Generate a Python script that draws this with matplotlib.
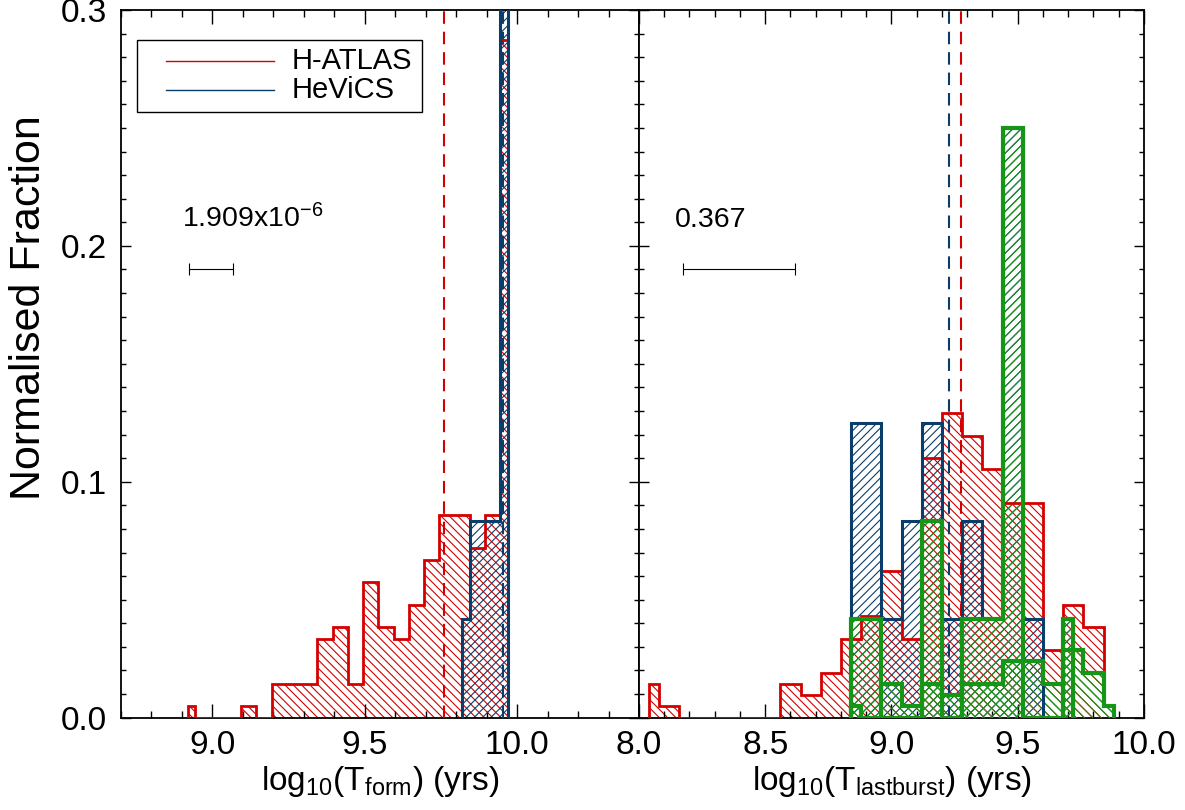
import numpy as np
import matplotlib
matplotlib.use('Agg')
import matplotlib.pyplot as plt
from matplotlib.ticker import MultipleLocator, FormatStrFormatter
from matplotlib.patches import Rectangle

plt.rcParams['font.family'] = ['Liberation Sans', 'DejaVu Sans']
plt.rcParams['mathtext.fontset'] = 'custom'
plt.rcParams['mathtext.rm'] = 'Liberation Sans'
plt.rcParams['mathtext.it'] = 'Liberation Sans:italic'
plt.rcParams['mathtext.bf'] = 'Liberation Sans:bold'
plt.rcParams['hatch.linewidth'] = 0.8

RED = '#d40000'
BLUE = '#0b3d6b'
GREEN = '#169616'

# ---------------- data: left panel (formation time) ----------------
form_atlas_x = [8.92, 8.97, 9.02, 9.07, 9.12, 9.17, 9.22, 9.27, 9.32, 9.37, 9.42,
                9.47, 9.52, 9.57, 9.62, 9.67, 9.72, 9.77, 9.82, 9.87, 9.92, 9.97]
form_atlas_y = [0.0048, 0.0, 0.0, 0.0, 0.0048, 0.0, 0.0144, 0.0144, 0.0144, 0.0335, 0.0383,
                0.0144, 0.0574, 0.0383, 0.0335, 0.0478, 0.0670, 0.0861, 0.0861, 0.0718, 0.0861, 0.2871]
form_hevics_x = [9.82, 9.87, 9.92, 9.97]
form_hevics_y = [0.0417, 0.0833, 0.0833, 0.7917]
form_mean_atlas = 9.76
form_mean_hevics = 9.955
form_stat_text = r'1.909x10$^{\mathrm{-6}}$'
form_err_x, form_err_halfwidth = 8.995, 0.072

# ---------------- data: right panel (last burst time) ----------------
burst_atlas_x = [8.04, 8.12, 8.20, 8.28, 8.36, 8.44, 8.52, 8.60, 8.68, 8.76, 8.84, 8.92,
                 9.00, 9.08, 9.16, 9.24, 9.32, 9.40, 9.48, 9.56, 9.64, 9.72, 9.80, 9.88]
burst_atlas_y = [0.0144, 0.0048, 0.0, 0.0, 0.0, 0.0, 0.0, 0.0144, 0.0096, 0.0191, 0.0335, 0.0431,
                 0.0622, 0.0335, 0.1100, 0.1292, 0.1196, 0.1053, 0.0909, 0.0909, 0.0287, 0.0478, 0.0383, 0.0048]
burst_hevics_x = [8.84, 8.92, 9.00, 9.08, 9.16, 9.24, 9.32, 9.40, 9.48, 9.56, 9.64, 9.72]
burst_hevics_y = [0.125, 0.125, 0.0417, 0.0833, 0.125, 0.0417, 0.0833, 0.0417, 0.25, 0.0417, 0.0, 0.0417]
burst_green1_x = [8.84, 8.92, 9.00, 9.08, 9.16, 9.24, 9.32, 9.40, 9.48, 9.56, 9.64, 9.72]
burst_green1_y = [0.0417, 0.0417, 0.0, 0.0, 0.0833, 0.0, 0.0417, 0.0417, 0.25, 0.0, 0.0, 0.0417]
burst_green2_x = [8.84, 8.92, 9.00, 9.08, 9.16, 9.24, 9.32, 9.40, 9.48, 9.56, 9.64, 9.72, 9.80, 9.88]
burst_green2_y = [0.0048, 0.0, 0.0144, 0.0048, 0.0144, 0.0096, 0.0144, 0.0144, 0.0239, 0.0239,
                  0.0144, 0.0287, 0.0191, 0.0048]
burst_mean_atlas = 9.275
burst_mean_hevics = 9.229
burst_stat_text = '0.367'
burst_err_x, burst_err_halfwidth = 8.396, 0.222

legend_labels = ['H-ATLAS', 'HeViCS']
xlabel_left = r'log$_{\mathrm{10}}$(T$_{\mathrm{form}}$) (yrs)'
xlabel_right = r'log$_{\mathrm{10}}$(T$_{\mathrm{lastburst}}$) (yrs)'
ylabel = 'Normalised Fraction'


def step_edges(centers):
    c = np.asarray(centers, dtype=float)
    mids = (c[:-1] + c[1:]) / 2.0
    return np.concatenate([[c[0]], mids, [c[-1]]])


def draw_hist(ax, centers, values, color, hatch, lw, z):
    edges = step_edges(centers)
    ax.stairs(values, edges, baseline=0, fill=True, facecolor='none',
              edgecolor=color, hatch=hatch, linewidth=0, zorder=z)
    ax.stairs(values, edges, baseline=0, fill=False, color=color,
              linewidth=lw, zorder=z + 10)


fig = plt.figure(figsize=(11.85, 8.10), dpi=100)
axL = fig.add_axes([0.1019, 0.1140, 0.4374, 0.8737])
axR = fig.add_axes([0.5392, 0.1140, 0.4262, 0.8737])

# left panel
draw_hist(axL, form_atlas_x, form_atlas_y, RED, '\\\\\\\\', 2.0, 1)
draw_hist(axL, form_hevics_x, form_hevics_y, BLUE, '////', 2.2, 2)
dash = (6.0, 3.8)
axL.axvline(form_mean_atlas, color=RED, lw=1.5, dashes=dash, zorder=5)
axL.axvline(form_mean_hevics, color=BLUE, lw=1.5, dashes=dash, zorder=5)
axL.text(8.90, 0.208, form_stat_text, fontsize=20.5, ha='left', va='baseline')
axL.errorbar(form_err_x, 0.19, xerr=form_err_halfwidth, fmt='none', ecolor='black',
             elinewidth=0.8, capsize=4.3, capthick=0.8)

# right panel
draw_hist(axR, burst_atlas_x, burst_atlas_y, RED, '\\\\\\\\', 2.0, 1)
draw_hist(axR, burst_hevics_x, burst_hevics_y, BLUE, '////', 2.2, 2)
draw_hist(axR, burst_green2_x, burst_green2_y, GREEN, '\\\\\\\\', 3.0, 3)
draw_hist(axR, burst_green1_x, burst_green1_y, GREEN, '////', 3.0, 4)
axR.axvline(burst_mean_atlas, color=RED, lw=1.5, dashes=dash, zorder=6)
axR.axvline(burst_mean_hevics, color=BLUE, lw=1.5, dashes=dash, zorder=6)
axR.text(8.143, 0.208, burst_stat_text, fontsize=20.5, ha='left', va='baseline')
axR.errorbar(burst_err_x, 0.19, xerr=burst_err_halfwidth, fmt='none', ecolor='black',
             elinewidth=0.8, capsize=4.3, capthick=0.8)

axL.set_xlim(8.7, 10.4)
axR.set_xlim(8.0, 10.0)
for ax in (axL, axR):
    ax.set_ylim(0.0, 0.3)
    ax.xaxis.set_major_locator(MultipleLocator(0.5))
    ax.xaxis.set_minor_locator(MultipleLocator(0.1))
    ax.yaxis.set_major_locator(MultipleLocator(0.1))
    ax.yaxis.set_minor_locator(MultipleLocator(0.01))
    ax.xaxis.set_major_formatter(FormatStrFormatter('%.1f'))
    ax.yaxis.set_major_formatter(FormatStrFormatter('%.1f'))
    ax.tick_params(which='both', direction='in', top=True, right=True, width=1.0)
    ax.tick_params(axis='x', which='major', length=10, pad=9, labelsize=24)
    ax.tick_params(axis='x', which='minor', length=5)
    ax.tick_params(axis='y', which='major', length=7, pad=10, labelsize=24)
    ax.tick_params(axis='y', which='minor', length=3.5)
    for s in ax.spines.values():
        s.set_linewidth(1.3)

axR.tick_params(axis='y', labelleft=False)

axL.set_xlabel(xlabel_left, fontsize=24, labelpad=2)
axR.set_xlabel(xlabel_right, fontsize=24, labelpad=2)
axL.set_ylabel(ylabel, fontsize=31, labelpad=10)
axL.yaxis.set_label_coords(-0.138, 0.58)

# legend box drawn in axes coordinates
tr = axL.transAxes
axL.add_patch(Rectangle((0.0314, 0.8559), 0.5499, 0.1017, transform=tr, facecolor='white',
                        edgecolor='black', linewidth=1.0, zorder=30))
for (ly, col, lab) in [(0.9279, RED, legend_labels[0]), (0.8869, BLUE, legend_labels[1])]:
    axL.plot([0.0869, 0.2953], [ly, ly], transform=tr, color=col, lw=1.0, zorder=31)
    axL.text(0.3305, ly, lab, transform=tr, fontsize=21, ha='left', va='center', zorder=31)

fig.savefig('out.png', dpi=100)
